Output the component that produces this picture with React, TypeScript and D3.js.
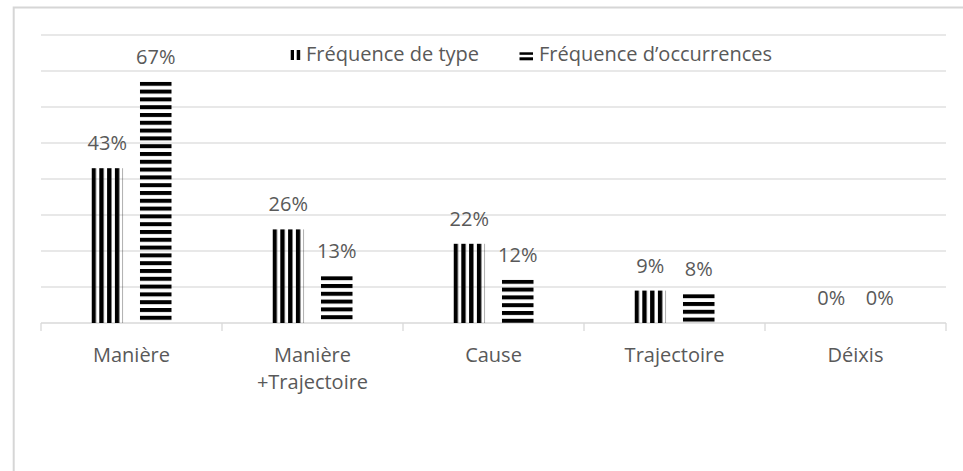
import React from "react";
import * as d3 from "d3";

const categories = ["Manière", "Manière\n+Trajectoire", "Cause", "Trajectoire", "Déixis"];
const seriesNames = ["Fréquence de type", "Fréquence d’occurrences"];
const typeValues = [0.43, 0.26, 0.22, 0.09, 0.0];
const occurrenceValues = [0.67, 0.13, 0.12, 0.08, 0.0];
const yTicks = [0, 0.1, 0.2, 0.3, 0.4, 0.5, 0.6, 0.7, 0.8];

const width = 963;
const height = 471;
const plot = { left: 41, right: 946, top: 35, bottom: 323 };
const textColor = "#595959";
const font = "'Open Sans', 'Noto Sans', sans-serif";

export default function App() {
  const x = d3.scaleBand().domain(categories).range([plot.left, plot.right]).padding(0);
  const inner = d3.scaleBand().domain(seriesNames).range([-40, 40]).paddingInner(0.35);
  const y = d3.scaleLinear().domain([0, 0.8]).range([plot.bottom, plot.top]);
  const fmt = d3.format(".0%");
  const period = 7.8;

  const bars = [];
  categories.forEach((c, i) => {
    [typeValues, occurrenceValues].forEach((vals, s) => {
      const cx = x(c) + x.bandwidth() / 2;
      const bx = cx + inner(seriesNames[s]);
      bars.push({ key: `${i}-${s}`, s, x: bx, y: y(vals[i]), w: inner.bandwidth(), h: y(0) - y(vals[i]), v: vals[i] });
    });
  });

  return (
    <svg width={width} height={height} style={{ position: "absolute", left: 0, top: 0, background: "#fff" }} fontFamily={font}>
      <defs>
        {bars.map(b =>
          b.s === 0 ? (
            <pattern key={b.key} id={`p${b.key}`} patternUnits="userSpaceOnUse" x={b.x} y={0} width={period} height={10}>
              <rect x={0} y={0} width={4.4} height={10} fill="#000" />
            </pattern>
          ) : (
            <pattern key={b.key} id={`p${b.key}`} patternUnits="userSpaceOnUse" x={0} y={b.y} width={10} height={period}>
              <rect x={0} y={0} width={10} height={4} fill="#000" />
            </pattern>
          )
        )}
      </defs>
      <rect x={13.7} y={7.5} width={1100} height={1000} fill="#fff" stroke="#d6d6d6" strokeWidth={2} />

      {yTicks.slice(1).map(t => (
        <line key={t} x1={plot.left} x2={plot.right} y1={y(t)} y2={y(t)} stroke="#e0e0e0" strokeWidth={1.3} />
      ))}
      <line x1={plot.left} x2={plot.right} y1={y(0)} y2={y(0)} stroke="#d9d9d9" strokeWidth={1.3} />
      {categories.map(c => (
        <line key={c} x1={x(c)} x2={x(c)} y1={y(0)} y2={y(0) + 8} stroke="#d9d9d9" strokeWidth={1.3} />
      ))}
      <line x1={plot.right} x2={plot.right} y1={y(0)} y2={y(0) + 8} stroke="#d9d9d9" strokeWidth={1.3} />

      {bars.map(b => (
        <g key={b.key}>
          {b.h > 0 && <rect x={b.x} y={b.y} width={b.w} height={b.h} fill={`url(#p${b.key})`} />}
          <text x={b.x + b.w / 2} y={b.y - 18} textAnchor="middle" fontSize={20} fill={textColor}>
            {fmt(b.v)}
          </text>
        </g>
      ))}

      {categories.map(c => (
        <text key={c} x={x(c) + x.bandwidth() / 2} y={362} textAnchor="middle" fontSize={20} fill={textColor}>
          {c.split("\n").map((line, j) => (
            <tspan key={j} x={x(c) + x.bandwidth() / 2} dy={j === 0 ? 0 : 27}>
              {line}
            </tspan>
          ))}
        </text>
      ))}

      <g>
        <rect x={290.7} y={50} width={3.3} height={10} fill="#000" />
        <rect x={296.7} y={50} width={3.5} height={10} fill="#000" />
        <text x={306} y={61} fontSize={20} fill={textColor}>{seriesNames[0]}</text>
        <rect x={519.5} y={52.3} width={13.5} height={2.5} fill="#000" />
        <rect x={519.5} y={57.3} width={13.5} height={3} fill="#000" />
        <text x={539} y={61} fontSize={20} fill={textColor}>{seriesNames[1]}</text>
      </g>
    </svg>
  );
}
